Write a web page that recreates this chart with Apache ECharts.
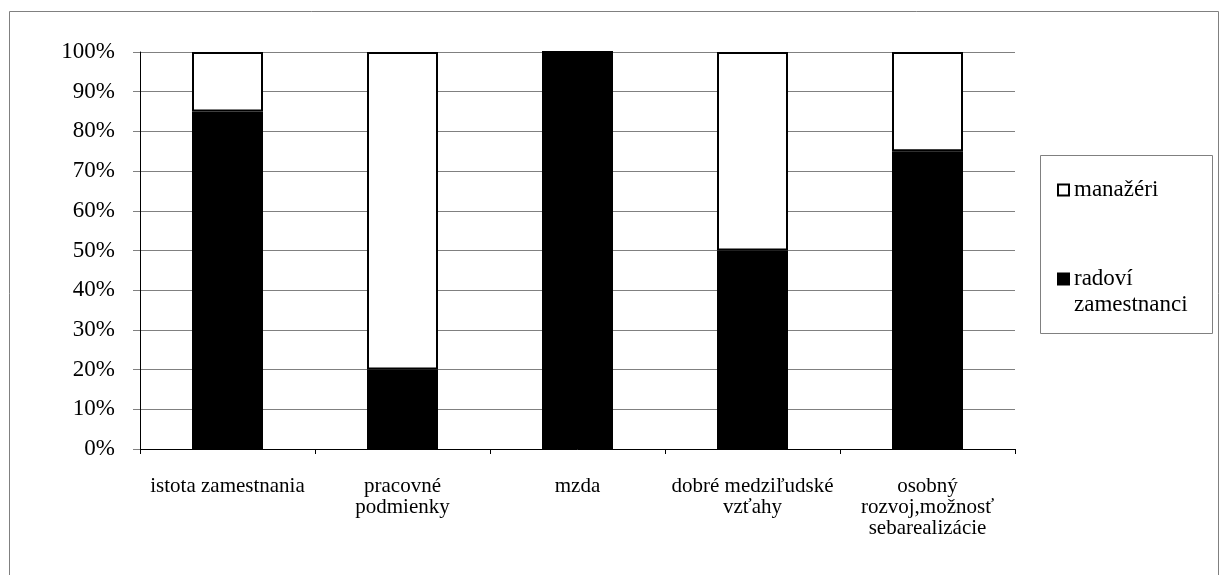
<!DOCTYPE html>
<html>
<head>
<meta charset="utf-8">
<script src="https://cdn.jsdelivr.net/npm/echarts@6/dist/echarts.min.js"></script>
<style>
  html, body { margin: 0; padding: 0; background: #fff; }
  #chart { width: 1224px; height: 575px; }
</style>
</head>
<body>
<div id="chart"></div>
<script>
// Categories of motivating factors
const categories = [
  'istota zamestnania',
  'pracovné\npodmienky',
  'mzda',
  'dobré medziľudské\nvzťahy',
  'osobný\nrozvoj,možnosť\nsebarealizácie'
];
// Share of responses (%) per group
const radovi = [85, 20, 100, 50, 75];
const manazeri = [15, 80, 0, 50, 25];
const yTicks = { min: 0, max: 100, interval: 10 };

const FONT = '"Liberation Serif", "Times New Roman", serif';
const chart = echarts.init(document.getElementById('chart'), null, { renderer: 'canvas' });

chart.setOption({
  backgroundColor: '#fff',
  animation: false,
  textStyle: { fontFamily: FONT, color: '#000' },
  grid: { left: 140, right: 209, top: 52, bottom: 126, containLabel: false },
  graphic: [
    {
      type: 'rect', silent: true, z: 0,
      shape: { x: 9.5, y: 11.5, width: 1209, height: 600 },
      style: { fill: 'none', stroke: '#808080', lineWidth: 1 }
    },
    {
      type: 'rect', silent: true, z: 0,
      shape: { x: 1040.5, y: 155.5, width: 172, height: 178 },
      style: { fill: '#fff', stroke: '#808080', lineWidth: 1 }
    }
  ],
  legend: {
    orient: 'vertical',
    left: 1057,
    top: 177,
    padding: 0,
    itemGap: 37,
    itemWidth: 11,
    itemHeight: 11,
    icon: 'rect',
    data: ['manažéri', 'radoví zamestnanci'],
    // the long name wraps; an empty leading line keeps its first line beside the icon
    formatter: function (name) {
      return name === 'radoví zamestnanci' ? '\nradoví\nzamestnanci' : name;
    },
    textStyle: {
      fontFamily: FONT, fontSize: 23, color: '#000', lineHeight: 26
    },
    selectedMode: false
  },
  xAxis: {
    type: 'category',
    data: categories,
    axisLine: { lineStyle: { color: '#000', width: 1 } },
    axisTick: { show: true, length: 5, interval: 0, lineStyle: { color: '#000' } },
    axisLabel: {
      interval: 0, margin: 27, fontFamily: FONT, fontSize: 21,
      lineHeight: 21, color: '#000'
    },
    splitLine: { show: false }
  },
  yAxis: {
    type: 'value',
    min: yTicks.min, max: yTicks.max, interval: yTicks.interval,
    axisLine: { show: true, lineStyle: { color: '#000', width: 1 } },
    axisTick: { show: true, length: 7, lineStyle: { color: '#808080' } },
    axisLabel: {
      formatter: '{value}%', margin: 25, fontFamily: FONT, fontSize: 23, color: '#000'
    },
    splitLine: { show: true, lineStyle: { color: '#808080', width: 1 } }
  },
  series: [
    {
      name: 'radoví zamestnanci',
      type: 'bar',
      stack: 'total',
      barWidth: 71,
      data: radovi,
      itemStyle: { color: '#000', borderColor: '#000', borderWidth: 2 }
    },
    {
      name: 'manažéri',
      type: 'bar',
      stack: 'total',
      barWidth: 71,
      data: manazeri,
      itemStyle: { color: '#fff', borderColor: '#000', borderWidth: 2 }
    }
  ]
});
</script>
</body>
</html>
